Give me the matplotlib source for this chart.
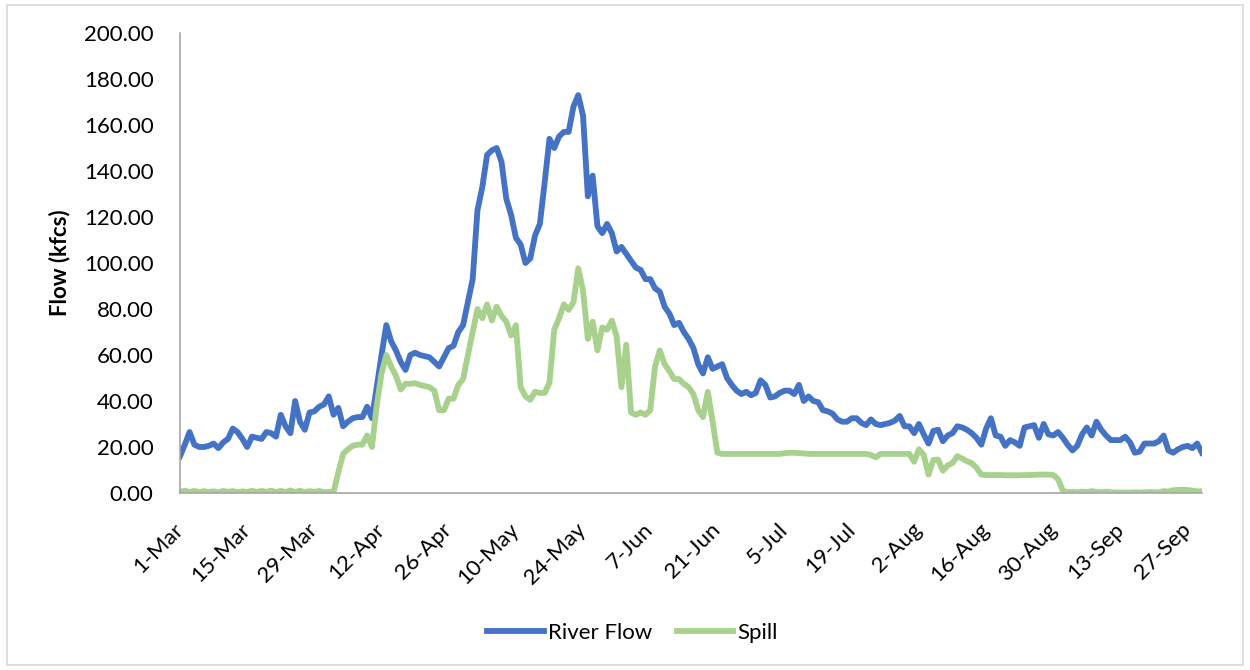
#river flow vs spill, daily, Mar-Sep
import numpy as np
import pandas as pd
import matplotlib
matplotlib.use("Agg")
import matplotlib.pyplot as plt
from matplotlib.patches import Rectangle

plt.rcParams['font.family'] = ['Lato', 'DejaVu Sans']

#daily dates, 1-Mar to 30-Sep
dates = pd.date_range('2021-03-01', '2021-09-30', freq='D')

#river flow (kfcs)
river_flow = [
    16, 21, 26.5, 21, 20, 20, 20.5, 21.5, 19.5, 22,
    23.5, 28, 26.5, 23.5, 20, 24.5, 24, 23.5, 26.5, 26,
    24.5, 34, 29, 26, 40, 31, 27.5, 35, 35.5, 37.5,
    38.5, 42, 34, 37, 29, 31, 32.5, 33, 33, 37.5,
    32.5, 46, 60, 73, 66, 62, 57, 53.5, 60, 61,
    60, 59.5, 59, 57, 55, 59, 63, 64, 70, 73,
    83, 93, 123, 133, 147, 149, 150, 144, 128, 121,
    111, 108, 100, 102, 112, 117, 135, 154, 150, 155,
    157, 157, 168, 173, 164, 129, 138, 116, 113, 117,
    113, 105, 107, 104, 101, 98, 97, 93, 93, 89,
    87.5, 81, 78, 73, 74, 70, 67, 63, 56, 52,
    59, 54, 55, 56, 50, 47, 44.5, 43, 44, 42.5,
    43.5, 49, 47, 41.5, 42, 43.5, 44.5, 44.5, 43, 47,
    40, 42, 40, 39.5, 36, 35.5, 34.5, 32, 31, 31,
    32.5, 32.5, 30.5, 29.5, 32, 30, 29.5, 30, 30.5, 31.5,
    33.5, 29, 29, 26, 30, 25.5, 21.5, 27, 27.5, 22.5,
    25, 26, 29, 28.5, 27.5, 26, 24, 21, 28, 32.5,
    25, 24.5, 20.5, 23, 22, 20.5, 28.5, 29, 29.5, 24,
    30, 25.5, 25, 26.5, 24, 21, 18.5, 20.5, 25.5, 28.5,
    25, 31, 27.5, 25, 23, 23, 23, 24.5, 22, 17.5,
    18, 21.5, 21.5, 21.5, 22.5, 25, 18.5, 17.5, 19, 20,
    20.5, 19.5, 21.5, 17.5,
]

#spill (kfcs)
spill = [
    0.5, 1.0, 0.4, 0.9, 0.3, 0.8, 0.4, 0.7, 0.3, 0.9,
    0.5, 0.8, 0.3, 0.7, 0.4, 1.0, 0.4, 0.9, 0.5, 1.0,
    0.4, 0.9, 0.4, 1.1, 0.4, 1.0, 0.3, 0.8, 0.5, 0.9,
    0.3, 0.5, 0.4, 9, 17, 19, 20.5, 21, 21, 25,
    20, 38, 52, 60, 55, 51, 45, 47.5, 47.5, 47.7,
    47, 46.5, 46, 44.5, 36, 36, 41, 41, 47, 49.5,
    60, 70, 80, 76, 82, 75, 81, 77, 74.5, 68.5,
    73, 46, 42, 40.5, 44, 43.5, 43.5, 48, 71, 76,
    82, 79.6, 83, 97.7, 88, 67, 74.5, 62, 72, 71,
    75, 68, 46, 64.5, 35, 34, 35, 34, 36, 55,
    62, 56, 53, 49.5, 49.5, 47.5, 46, 43, 36, 33,
    44, 31, 17.5, 17, 17, 17, 17, 17, 17, 17,
    17, 17, 17, 17, 17, 17, 17.3, 17.5, 17.5, 17.3,
    17.2, 17, 17, 17, 17, 17, 17, 17, 17, 17,
    17, 17, 17, 17, 16.5, 15.5, 17, 17, 17, 17,
    17, 17, 17, 13.6, 19, 16.5, 8, 14.3, 14.5, 9.7,
    12, 13, 16, 15, 13.8, 13, 11, 8, 7.8, 7.8,
    7.8, 7.8, 7.7, 7.7, 7.7, 7.7, 7.8, 7.8, 7.9, 8,
    8, 8, 7.8, 6, 1.0, 0.3, 0.5, 0.3, 0.6, 0.4,
    0.8, 0.5, 0.3, 0.6, 0.3, 0.2, 0.2, 0.2, 0.2, 0.3,
    0.2, 0.3, 0.4, 0.3, 0.3, 0.8, 0.6, 1.2, 1.3, 1.4,
    1.3, 1.0, 0.7, 0.8,
]

tick_labels = ['1-Mar', '15-Mar', '29-Mar', '12-Apr', '26-Apr', '10-May', '24-May',
               '7-Jun', '21-Jun', '5-Jul', '19-Jul', '2-Aug', '16-Aug', '30-Aug',
               '13-Sep', '27-Sep']
tick_dates = dates[::14][:len(tick_labels)]

fig = plt.figure(figsize=(12.5, 6.7), dpi=100)
ax = fig.add_axes([0.144, 0.2642, 0.8176, 0.6865])

ax.plot(dates, river_flow, color='#4472C4', lw=4.2, label='River Flow', solid_joinstyle='round')
ax.plot(dates, spill, color='#A9D18E', lw=4.2, label='Spill', solid_joinstyle='round')

ax.set_xlim(dates[0], dates[-1])
ax.set_ylim(0, 200)
ax.set_yticks(np.arange(0, 201, 20))
ax.set_yticklabels(['%.2f' % v for v in np.arange(0, 201, 20)], fontsize=16)
ax.set_xticks(tick_dates)
ax.set_xticklabels(tick_labels, fontsize=16, rotation=45, ha='right', va='center',
                   rotation_mode='anchor')
ax.tick_params(axis='both', length=0)
ax.tick_params(axis='y', pad=19)
ax.tick_params(axis='x', pad=24)
ax.set_ylabel('Flow (kfcs)', fontsize=16, fontweight='bold', labelpad=10)

for s in ['top', 'right']:
    ax.spines[s].set_visible(False)
for s in ['left', 'bottom']:
    ax.spines[s].set_color('#A6A6A6')
    ax.spines[s].set_linewidth(1.2)

fig.legend(loc='center', bbox_to_anchor=(0.506, 0.055), ncol=2, frameon=False,
           fontsize=16, handlelength=2.55, handletextpad=0.2, columnspacing=1.1)

#chart border
fig.patches.append(Rectangle((0.0056, 0.0075), 0.9888, 0.985, transform=fig.transFigure,
                             fill=False, edgecolor='#D9D9D9', lw=1.2))

plt.savefig('out.png', dpi=100)
